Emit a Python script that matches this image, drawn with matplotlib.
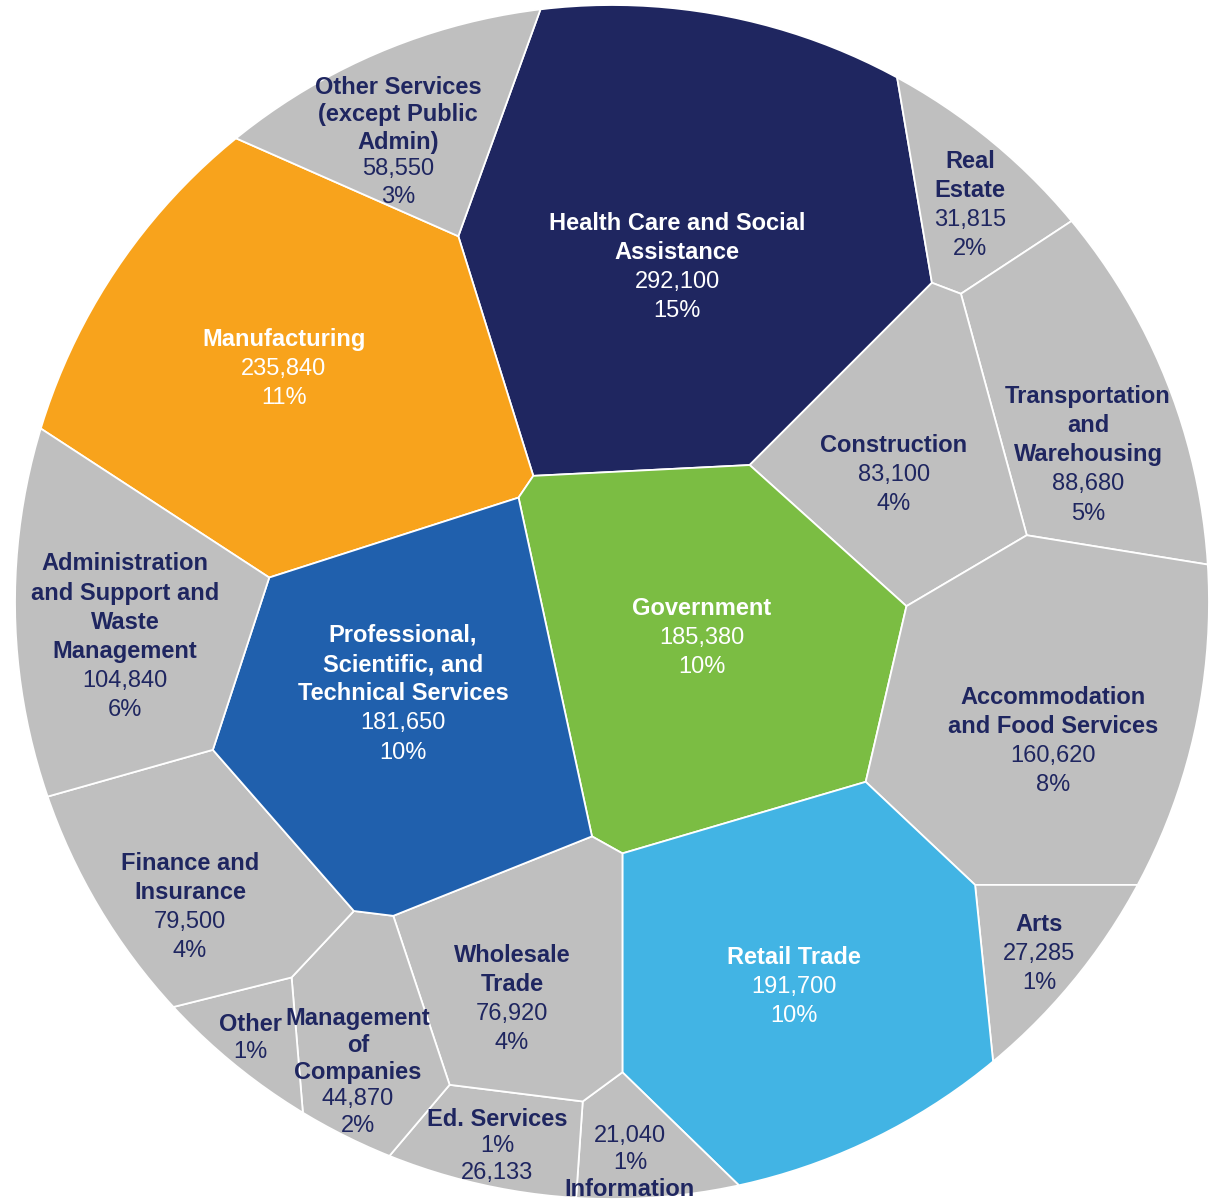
import numpy as np
import matplotlib
matplotlib.use("Agg")
import matplotlib.pyplot as plt
from matplotlib.patches import Polygon

# employment by industry
industries = [
    "Health Care and Social\nAssistance", "Manufacturing", "Other Services\n(except Public\nAdmin)",
    "Real\nEstate", "Transportation\nand\nWarehousing", "Construction", "Government",
    "Accommodation\nand Food Services", "Arts", "Retail Trade", "Information", "Ed. Services",
    "Wholesale\nTrade", "Management\nof\nCompanies", "Other", "Finance and\nInsurance",
    "Professional,\nScientific, and\nTechnical Services",
    "Administration\nand Support and\nWaste\nManagement",
]
jobs = [292100, 235840, 58550, 31815, 88680, 83100, 185380, 160620, 27285, 191700,
        21040, 26133, 76920, 44870, 15000, 79500, 181650, 104840]
shares = ["15%", "11%", "3%", "2%", "5%", "4%", "10%", "8%", "1%", "10%",
          "1%", "1%", "4%", "2%", "1%", "4%", "10%", "6%"]

NAVY = "#1f2660"
GRAY = "#bfbfbf"
fills = [NAVY, "#f8a31c", GRAY, GRAY, GRAY, GRAY, "#7bbd43", GRAY, GRAY, "#42b4e4",
         GRAY, GRAY, GRAY, GRAY, GRAY, GRAY, "#2060ad", GRAY]
white_text = [c != GRAY for c in fills]

# layout: seed points of the power diagram and label centres (pixel coords)
seeds = np.array([
    (680, 250), (290, 372), (390, 145), (975, 200), (1100, 390), (880, 450), (700, 650),
    (1045, 730), (1045, 965), (800, 990), (635, 1160), (490, 1150), (510, 990),
    (360, 1040), (240, 1050), (200, 890), (400, 715), (125, 625)], dtype=float)
label_xy = [
    (677, 267), (284, 369), (398, 142), (970, 205), (1088, 455), (894, 475), (702, 638),
    (1053, 741), (1039, 954), (794, 987), (630, 1163), (497, 1146), (512, 999),
    (358, 1072), (250, 1038), (190, 907), (403, 694), (125, 637)]
orders = ["nvp"] * 10 + ["vpn", "npv"] + ["nvp"] * 2 + ["np"] + ["nvp"] * 3
steps = [29.3, 29.3, 27.5, 29.3, 29.3, 29.3, 29.3, 29.3, 29.3, 29.3,
         27, 27, 29.3, 27, 27, 29.3, 29.3, 29.3]

W, H = 1209, 1200
cx, cy, R = 612.0, 602.0, 597.0


def clip(poly, a, b):
    if len(poly) == 0:
        return poly
    s = poly @ a - b
    inside = s <= 0
    if inside.all():
        return poly
    if not inside.any():
        return poly[:0]
    nxt = np.roll(poly, -1, axis=0)
    sn = np.roll(s, -1)
    cross = inside != (sn <= 0)
    denom = np.where(cross, s - sn, 1.0)
    t = np.where(cross, s / denom, 0.0)
    ip = poly + t[:, None] * (nxt - poly)
    pts = np.stack([poly, ip], axis=1).reshape(-1, 2)
    mask = np.stack([inside, cross], axis=1).reshape(-1)
    return pts[mask]


def area(poly):
    if len(poly) < 3:
        return 0.0
    x, y = poly[:, 0], poly[:, 1]
    return 0.5 * abs(np.dot(x, np.roll(y, -1)) - np.dot(y, np.roll(x, -1)))


def power_cells(pts, w, circle):
    cells = []
    sq = (pts ** 2).sum(axis=1)
    for i in range(len(pts)):
        poly = circle
        for j in range(len(pts)):
            if i == j:
                continue
            a = 2 * (pts[j] - pts[i])
            b = sq[j] - sq[i] - w[j] + w[i]
            poly = clip(poly, a, b)
            if len(poly) == 0:
                break
        cells.append(poly)
    return cells


def fit(pts, values, circle, iters=1500):
    total = area(circle)
    target = np.array(values, float) / sum(values) * total
    w = np.zeros(len(pts))
    for k in range(iters):
        cells = power_cells(pts, w, circle)
        a = np.array([area(c) for c in cells])
        w += 0.35 * (target - a)
        w -= w.mean()
    return power_cells(pts, w, circle)


ang = np.linspace(0, 2 * np.pi, 240, endpoint=False)
coarse = np.column_stack([cx + R * np.cos(ang), cy + R * np.sin(ang)])
cells = fit(seeds, jobs, coarse)

fig = plt.figure(figsize=(12.09, 12.0), dpi=100)
ax = fig.add_axes([0, 0, 1, 1])
ax.set_xlim(0, W)
ax.set_ylim(H, 0)
ax.axis("off")

for poly, col in zip(cells, fills):
    if len(poly) >= 3:
        ax.add_patch(Polygon(poly, closed=True, facecolor=col, edgecolor="white",
                             linewidth=1.3, joinstyle="miter"))

FONT = "Liberation Sans"
for i, name in enumerate(industries):
    col = "white" if white_text[i] else NAVY
    lines = []
    for part in orders[i]:
        if part == "n":
            lines += [(ln, "bold") for ln in name.split("\n")]
        elif part == "v":
            lines.append((f"{jobs[i]:,}", "normal"))
        else:
            lines.append((shares[i], "normal"))
    x0, y0 = label_xy[i]
    n = len(lines)
    for k, (txt, wt) in enumerate(lines):
        ax.text(x0, y0 + (k - (n - 1) / 2) * steps[i], txt, ha="center", va="center",
                fontsize=17, fontweight=wt, color=col, family=FONT)

fig.savefig("out.png", dpi=100)
